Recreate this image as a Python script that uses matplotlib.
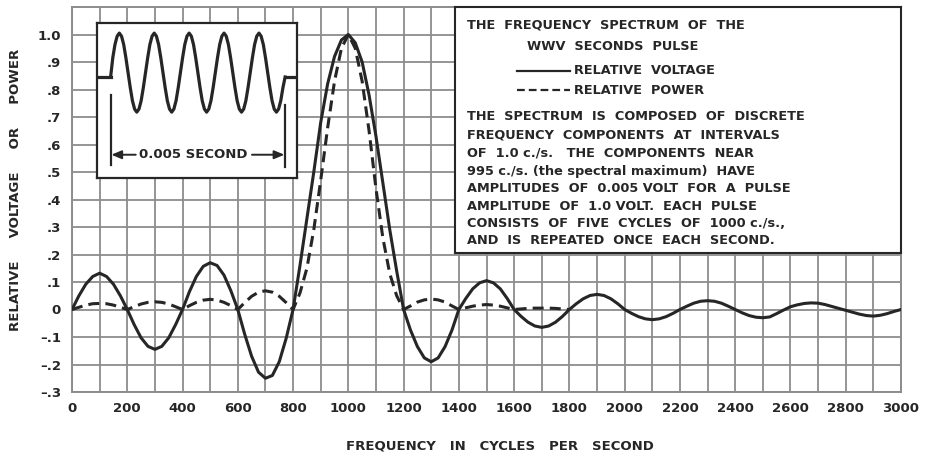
import numpy as np
import matplotlib
matplotlib.use("Agg")
import matplotlib.pyplot as plt
from matplotlib.lines import Line2D

# ---------------- data ----------------
freq_voltage = np.arange(0, 3001, 25)
voltage = [
    0, 0.05, 0.092, 0.12,
    0.132, 0.12, 0.092, 0.05,
    0, -0.055, -0.103, -0.134,
    -0.145, -0.134, -0.103, -0.055,
    0, 0.065, 0.12, 0.157,
    0.17, 0.16, 0.125, 0.068,
    0, -0.09, -0.17, -0.228,
    -0.25, -0.24, -0.19, -0.105,
    0, 0.16, 0.33, 0.5,
    0.68, 0.82, 0.92, 0.98,
    1.0, 0.97, 0.90, 0.78,
    0.63, 0.46, 0.29, 0.14,
    0, -0.075, -0.135, -0.176,
    -0.19, -0.176, -0.135, -0.075,
    0, 0.04, 0.075, 0.097,
    0.105, 0.097, 0.075, 0.04,
    0, -0.025, -0.046, -0.06,
    -0.065, -0.06, -0.046, -0.025,
    0, 0.021, 0.039, 0.051,
    0.055, 0.051, 0.039, 0.021,
    0, -0.014, -0.026, -0.034,
    -0.037, -0.034, -0.026, -0.014,
    0, 0.012, 0.023, 0.03,
    0.032, 0.03, 0.023, 0.012,
    0, -0.012, -0.022, -0.028,
    -0.03, -0.027, -0.015, -0.002,
    0.01, 0.017, 0.022, 0.024,
    0.023, 0.018, 0.011, 0.004,
    -0.003, -0.01, -0.017, -0.022,
    -0.024, -0.021, -0.015, -0.007,
    0,
]

freq_power = np.arange(0, 1801, 25)
power = [
    0, 0.008, 0.016, 0.021,
    0.022, 0.021, 0.016, 0.008,
    0, 0.01, 0.02, 0.026,
    0.028, 0.026, 0.02, 0.01,
    0, 0.014, 0.026, 0.034,
    0.037, 0.034, 0.026, 0.014,
    0, 0.025, 0.048, 0.063,
    0.068, 0.063, 0.048, 0.025,
    0, 0.06, 0.15, 0.29,
    0.47, 0.66, 0.83, 0.95,
    1.0, 0.95, 0.83, 0.65,
    0.44, 0.26, 0.13, 0.05,
    0, 0.013, 0.027, 0.035,
    0.038, 0.035, 0.027, 0.013,
    0, 0.006, 0.012, 0.016,
    0.018, 0.016, 0.012, 0.006,
    0, 0.002, 0.004, 0.005,
    0.005, 0.005, 0.004, 0.002,
    0,
]

x_tick_values = list(range(0, 3001, 200))
x_tick_labels = [str(v) for v in x_tick_values]
y_tick_values = [-0.3, -0.2, -0.1, 0.0, 0.1, 0.2, 0.3, 0.4, 0.5, 0.6, 0.7, 0.8, 0.9, 1.0]
y_tick_labels = ["\u2013.3", "\u2013.2", "\u2013.1", "0", ".1", ".2", ".3", ".4",
                 ".5", ".6", ".7", ".8", ".9", "1.0"]

# inset pulse waveform (time in ms, relative amplitude), 16 samples per cycle
pulse_time = np.arange(81) / 16.0
pulse_wave = [
    0.0, 0.44, 0.74, 0.93, 1.0, 0.93, 0.74, 0.44, 0.1, -0.24, -0.54, -0.73, -0.8, -0.73, -0.54, -0.24,
    0.1, 0.44, 0.74, 0.93, 1.0, 0.93, 0.74, 0.44, 0.1, -0.24, -0.54, -0.73, -0.8, -0.73, -0.54, -0.24,
    0.1, 0.44, 0.74, 0.93, 1.0, 0.93, 0.74, 0.44, 0.1, -0.24, -0.54, -0.73, -0.8, -0.73, -0.54, -0.24,
    0.1, 0.44, 0.74, 0.93, 1.0, 0.93, 0.74, 0.44, 0.1, -0.24, -0.54, -0.73, -0.8, -0.73, -0.54, -0.24,
    0.1, 0.44, 0.74, 0.93, 1.0, 0.93, 0.74, 0.44, 0.1, -0.24, -0.54, -0.73, -0.8, -0.73, -0.54, -0.24,
    0.0,
]
pulse_lead_time = [-0.4, 0.0]
pulse_trail_time = [5.0, 5.4]
pulse_flat = [0.0, 0.0]

title_lines = ["THE  FREQUENCY  SPECTRUM  OF  THE", "WWV  SECONDS  PULSE"]
legend_labels = ["RELATIVE  VOLTAGE", "RELATIVE  POWER"]
note_lines = [
    "THE  SPECTRUM  IS  COMPOSED  OF  DISCRETE",
    "FREQUENCY  COMPONENTS  AT  INTERVALS",
    "OF  1.0 c./s.   THE  COMPONENTS  NEAR",
    "995 c./s. (the spectral maximum)  HAVE",
    "AMPLITUDES  OF  0.005 VOLT  FOR  A  PULSE",
    "AMPLITUDE  OF  1.0 VOLT.  EACH  PULSE",
    "CONSISTS  OF  FIVE  CYCLES  OF  1000 c./s.,",
    "AND  IS  REPEATED  ONCE  EACH  SECOND.",
]

# ---------------- figure ----------------
W, H = 933, 455
fig = plt.figure(figsize=(W / 100, H / 100), dpi=100)
fig.patch.set_facecolor("white")
plt.rcParams["font.family"] = ["DejaVu Sans"]

INK = "#262626"
GRID = "#8c8c8c"

def fx(px):
    return px / W

def fy(py):
    return 1 - py / H

ax_l, ax_r, ax_t, ax_b = 72, 901, 7, 392
ax = fig.add_axes([fx(ax_l), fy(ax_b), fx(ax_r) - fx(ax_l), fy(ax_t) - fy(ax_b)])
ax.set_xlim(0, 3000)
ax.set_ylim(-0.3, 1.1)
ax.set_xticks(x_tick_values)
ax.set_xticklabels(x_tick_labels)
ax.set_xticks(np.arange(0, 3001, 100), minor=True)
ax.set_yticks(y_tick_values)
ax.set_yticklabels(y_tick_labels)
ax.tick_params(which="both", length=0)
ax.tick_params(axis="x", pad=7, labelsize=9.5, colors=INK)
ax.tick_params(axis="y", pad=8, labelsize=9.5, colors=INK)
for lab in ax.get_xticklabels() + ax.get_yticklabels():
    lab.set_fontweight("bold")
ax.grid(True, which="both", color=GRID, lw=1.3)
ax.set_axisbelow(True)
for sp in ax.spines.values():
    sp.set_color(GRID)
    sp.set_linewidth(1.4)

ax.plot(freq_voltage, voltage, color=INK, lw=2.2, solid_capstyle="round", zorder=3)
ax.plot(freq_power, power, color=INK, lw=2.2, ls=(0, (3.6, 2.0)), zorder=3)

fig.text(fx(500), fy(446), "FREQUENCY   IN   CYCLES   PER   SECOND",
         ha="center", va="center", fontsize=9.5, fontweight="bold", color=INK)
fig.text(fx(16), fy(190), "RELATIVE     VOLTAGE     OR     POWER", rotation=90,
         ha="center", va="center", fontsize=9.5, fontweight="bold", color=INK)

# ---------------- inset pulse ----------------
ins_l, ins_r, ins_t, ins_b = 97, 297, 23, 178
ins = fig.add_axes([fx(ins_l), fy(ins_b), fx(ins_r) - fx(ins_l), fy(ins_t) - fy(ins_b)])
ins.set_facecolor("white")
ins.set_xlim(-0.39, 5.34)
ins.set_ylim(-2.3, 1.23)
ins.set_xticks([])
ins.set_yticks([])
for sp in ins.spines.values():
    sp.set_color(INK)
    sp.set_linewidth(1.6)
ins.plot(pulse_time, pulse_wave, color=INK, lw=2.3, solid_joinstyle="round")
ins.plot(pulse_lead_time, pulse_flat, color=INK, lw=2.3)
ins.plot(pulse_trail_time, pulse_flat, color=INK, lw=2.3)
ins.plot([0.0, 0.0], [-0.41, -2.0], color=INK, lw=1.6)
ins.plot([5.0, 5.0], [-0.64, -2.05], color=INK, lw=1.6)
ins.text(2.36, -1.77, "0.005 SECOND", ha="center", va="center",
         fontsize=9.5, fontweight="bold", color=INK)
arr = dict(arrowstyle="-|>,head_length=0.6,head_width=0.25", color=INK, lw=1.4,
           shrinkA=0, shrinkB=0)
ins.annotate("", xy=(0.02, -1.77), xytext=(0.72, -1.77), arrowprops=arr)
ins.annotate("", xy=(4.98, -1.77), xytext=(4.05, -1.77), arrowprops=arr)

# ---------------- text box ----------------
tb_l, tb_r, tb_t, tb_b = 455, 901, 7, 253
tb = fig.add_axes([fx(tb_l), fy(tb_b), fx(tb_r) - fx(tb_l), fy(tb_t) - fy(tb_b)])
tb.set_facecolor("white")
tb.set_xlim(tb_l, tb_r)
tb.set_ylim(tb_b, tb_t)
tb.set_xticks([])
tb.set_yticks([])
for sp in tb.spines.values():
    sp.set_color(INK)
    sp.set_linewidth(1.5)

tk = dict(ha="left", va="center", fontsize=9.3, fontweight="bold", color=INK)
tb.text(467, 25, title_lines[0], **tk)
tb.text(527, 46, title_lines[1], **tk)
tb.add_line(Line2D([517, 570], [70.5, 70.5], color=INK, lw=1.6))
tb.add_line(Line2D([517, 570], [89.5, 89.5], color=INK, lw=1.6, ls=(0, (3.5, 1.8))))
tb.text(574, 70, legend_labels[0], **tk)
tb.text(574, 90, legend_labels[1], **tk)
note_y = [116.7, 135, 152.7, 171, 188.3, 206, 223.3, 240.7]
for yy, line in zip(note_y, note_lines):
    tb.text(467, yy, line, **tk)

fig.savefig("out.png", dpi=100, facecolor="white")
